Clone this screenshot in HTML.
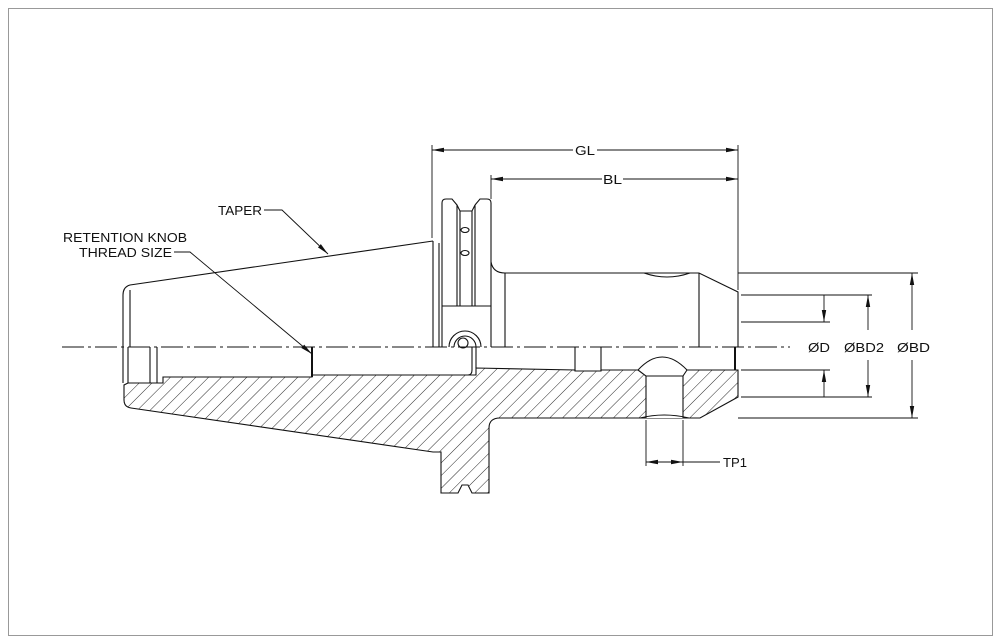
<!DOCTYPE html>
<html><head><meta charset="utf-8"><style>html,body{margin:0;padding:0;background:#fff}svg{display:block}text{font-family:"Liberation Sans",sans-serif;font-size:12.5px;fill:#111}</style></head>
<body>
<svg width="1001" height="644" viewBox="0 0 1001 644" xmlns="http://www.w3.org/2000/svg">
<defs>
<pattern id="h" width="9" height="9" patternUnits="userSpaceOnUse" patternTransform="rotate(45)">
<line x1="0" y1="0" x2="0" y2="9" stroke="#111" stroke-width="0.9"/>
</pattern>
<marker id="a" markerWidth="12" markerHeight="6" refX="12" refY="3" orient="auto" markerUnits="userSpaceOnUse"><path d="M0,0.8 L12,3 L0,5.2z" fill="#111"/></marker>
</defs>
<rect x="8.5" y="8.5" width="984" height="627" fill="none" stroke="#999" stroke-width="1"/>
<g fill="none" stroke="#111" stroke-width="1.1">
<path d="M128,383 L124,385 L124,400 Q124,407 131,408 L433,452 L441,452 L441,493 L458,493 L462,485 L468,485 L472,493 L489,493 L489,428 Q489,418 500,418 L700,418 L738,397 L738,370 L601,370 L601,371 L575,371 L575,370 L476,368 L476,375 L312,375 L312,377 L163,377 L163,383 Z" fill="url(#h)"/>
<path d="M646,418 L646,376 L638,370 Q662,344 687,370 L683,376 L683,418" fill="#fff"/>
<line x1="646" y1="376" x2="683" y2="376"/>
<path d="M640,418 Q664,412 689,418"/>
<path d="M433,241 L130,285 Q123,287 123,295 L123,383"/>
<line x1="130" y1="290" x2="130" y2="347"/>
<line x1="128" y1="347" x2="128" y2="383"/>
<line x1="150" y1="347" x2="150" y2="383"/>
<line x1="157" y1="347" x2="157" y2="383"/>
<line x1="312" y1="347" x2="312" y2="377" stroke-width="2"/>
<path d="M472,347 L472,370 Q472,375 468,375"/>
<line x1="476" y1="347" x2="476" y2="368"/>
<line x1="575" y1="347" x2="575" y2="371"/>
<line x1="601" y1="347" x2="601" y2="371"/>
<line x1="433" y1="241" x2="433" y2="347"/>
<line x1="439" y1="243" x2="439" y2="347"/>
<path d="M442,347 L442,203 Q442,199 446,199 L452,199 L457,205 L457,306"/>
<line x1="442" y1="306" x2="491" y2="306"/>
<line x1="460" y1="211" x2="460" y2="306"/>
<line x1="472" y1="211" x2="472" y2="306"/>
<path d="M457,205 L460,211 L472,211 L475,205 L475,306"/>
<path d="M475,205 L480,199 L487,199 Q491,199 491,203 L491,347"/>
<ellipse cx="465" cy="230" rx="4" ry="2.5"/>
<ellipse cx="465" cy="253" rx="4" ry="2.5"/>
<path d="M449,347 A16,16 0 0 1 481,347"/>
<path d="M454,347 A11,11 0 0 1 476,347"/>
<circle cx="463" cy="343" r="5"/>
<path d="M491,262 Q493,273 505,273 L699,273 L738,292 L738,347"/>
<line x1="505" y1="273" x2="505" y2="347"/>
<line x1="699" y1="273" x2="699" y2="347"/>
<path d="M644,273 Q667,281 690,273"/>
<line x1="735" y1="347" x2="735" y2="370" stroke-width="2"/>
</g>
<line x1="62" y1="347" x2="790" y2="347" stroke="#111" stroke-width="0.9" stroke-dasharray="22,4,3,4"/>
<g stroke="#111" stroke-width="0.9" fill="none">
<line x1="432" y1="145" x2="432" y2="238"/>
<line x1="738" y1="145" x2="738" y2="290"/>
<line x1="491" y1="175" x2="491" y2="199"/>
<line x1="573" y1="150" x2="432" y2="150" marker-end="url(#a)"/>
<line x1="597" y1="150" x2="738" y2="150" marker-end="url(#a)"/>
<line x1="602" y1="179" x2="491" y2="179" marker-end="url(#a)"/>
<line x1="623" y1="179" x2="738" y2="179" marker-end="url(#a)"/>
<line x1="738" y1="273" x2="918" y2="273"/>
<line x1="741" y1="295" x2="872" y2="295"/>
<line x1="741" y1="322" x2="830" y2="322"/>
<line x1="741" y1="370" x2="830" y2="370"/>
<line x1="741" y1="397" x2="872" y2="397"/>
<line x1="738" y1="418" x2="918" y2="418"/>
<line x1="824" y1="295" x2="824" y2="322" marker-end="url(#a)"/>
<line x1="824" y1="397" x2="824" y2="370" marker-end="url(#a)"/>
<line x1="868" y1="330" x2="868" y2="295" marker-end="url(#a)"/>
<line x1="868" y1="360" x2="868" y2="397" marker-end="url(#a)"/>
<line x1="912" y1="330" x2="912" y2="273" marker-end="url(#a)"/>
<line x1="912" y1="360" x2="912" y2="418" marker-end="url(#a)"/>
<line x1="646" y1="420" x2="646" y2="466"/>
<line x1="683" y1="420" x2="683" y2="466"/>
<line x1="665" y1="462" x2="646" y2="462" marker-end="url(#a)"/>
<line x1="665" y1="462" x2="683" y2="462" marker-end="url(#a)"/>
<line x1="683" y1="462" x2="720" y2="462"/>
<path d="M264,210 L282,210 L328,254" marker-end="url(#a)"/>
<path d="M174,252 L190,252 L312,354" marker-end="url(#a)"/>
</g>
<text x="575" y="155" textLength="20" lengthAdjust="spacingAndGlyphs">GL</text>
<text x="603" y="184" textLength="19" lengthAdjust="spacingAndGlyphs">BL</text>
<text x="218" y="215" textLength="44" lengthAdjust="spacingAndGlyphs">TAPER</text>
<text x="63" y="242" textLength="124" lengthAdjust="spacingAndGlyphs">RETENTION KNOB</text>
<text x="79" y="257" textLength="93" lengthAdjust="spacingAndGlyphs">THREAD SIZE</text>
<text x="808" y="352" textLength="22" lengthAdjust="spacingAndGlyphs">ØD</text>
<text x="844" y="352" textLength="40" lengthAdjust="spacingAndGlyphs">ØBD2</text>
<text x="897" y="352" textLength="33" lengthAdjust="spacingAndGlyphs">ØBD</text>
<text x="723" y="467" textLength="24" lengthAdjust="spacingAndGlyphs">TP1</text>
</svg>
</body></html>
